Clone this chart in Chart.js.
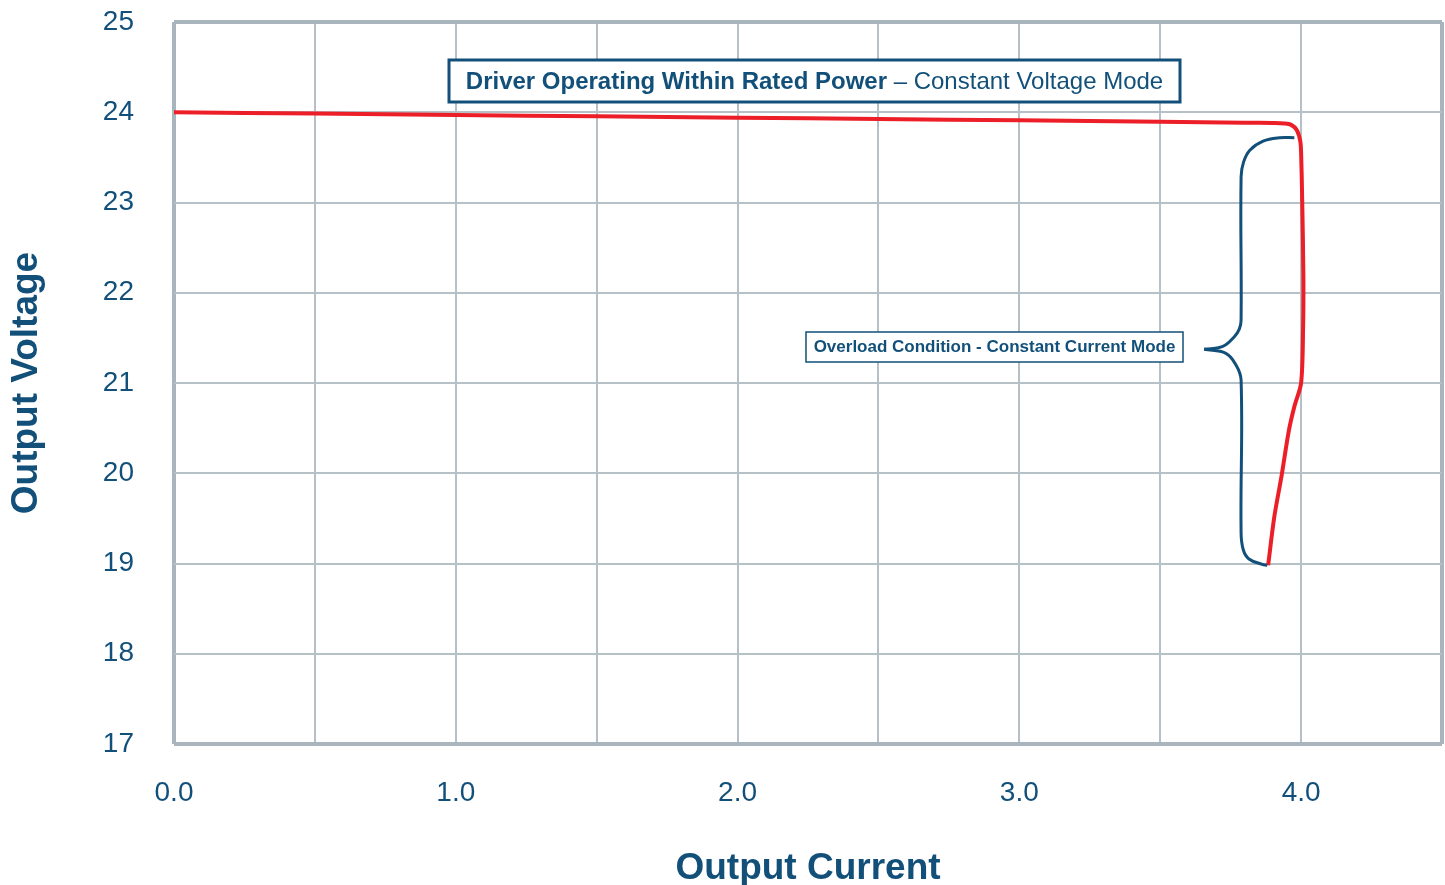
<!DOCTYPE html>
<html>
<head>
<meta charset="utf-8">
<script src="https://cdn.jsdelivr.net/npm/chart.js@4.4.1/dist/chart.umd.min.js"></script>
<style>
  html, body { margin: 0; padding: 0; background: #ffffff; }
  canvas { display: block; }
</style>
</head>
<body>
<canvas id="c" width="1445" height="885"></canvas>
<script>
// ---- Data ----
const outputCurrent = [0.0, 0.5, 1.0, 1.5, 2.0, 2.5, 3.0, 3.5, 3.8, 3.9, 3.94, 3.965, 3.985, 3.997, 4.0, 4.004, 4.008, 4.007, 4.0, 3.977, 3.957, 3.93, 3.905, 3.883];
const outputVoltage = [24.0, 23.985, 23.97, 23.955, 23.94, 23.925, 23.91, 23.895, 23.885, 23.88, 23.875, 23.86, 23.80, 23.68, 23.55, 23.0, 22.2, 21.6, 21.0, 20.75, 20.48, 19.96, 19.52, 18.98];

// Curly brace marking the constant-current region (upper and lower halves)
const braceUpperX = [3.976, 3.923, 3.865, 3.818, 3.796, 3.787, 3.787, 3.781, 3.763, 3.72, 3.656];
const braceUpperY = [23.718, 23.718, 23.68, 23.58, 23.45, 23.286, 21.698, 21.6, 21.513, 21.402, 21.373];
const braceLowerX = [3.656, 3.733, 3.769, 3.787, 3.787, 3.795, 3.815, 3.862, 3.880];
const braceLowerY = [21.373, 21.329, 21.199, 21.033, 19.338, 19.15, 19.05, 18.991, 18.98];

const xTitle = 'Output Current';
const yTitle = 'Output Voltage';
const xMin = 0, xMax = 4.5, xStep = 0.5;
const yMin = 17, yMax = 25, yStep = 1;
const noteTop = ['Driver Operating Within Rated Power', ' \u2013 Constant Voltage Mode'];
const noteOverload = 'Overload Condition - Constant Current Mode';

// ---- Styles ----
const TEXT = '#12507a';
const GRID = '#b5c0c7';
const EDGE = '#a8b5bd';
const RED = '#ec1f28';
const FONT = '"Liberation Sans", Arial, Helvetica, sans-serif';

const toPts = (xs, ys) => xs.map((x, i) => ({ x: x, y: ys[i] }));

const notesPlugin = {
  id: 'notes',
  beforeDraw(chart) {
    const ctx = chart.ctx;
    ctx.save();
    ctx.fillStyle = '#ffffff';
    ctx.fillRect(0, 0, chart.width, chart.height);
    ctx.restore();
  },
  afterDatasetsDraw(chart) {
    const ctx = chart.ctx;
    ctx.save();
    // Box 1
    ctx.fillStyle = '#ffffff';
    ctx.strokeStyle = TEXT;
    ctx.lineWidth = 3;
    ctx.fillRect(449, 60, 731, 42);
    ctx.strokeRect(449, 60, 731, 42);
    ctx.font = 'bold 24px ' + FONT;
    const w1 = ctx.measureText(noteTop[0]).width;
    ctx.font = '24px ' + FONT;
    const w2 = ctx.measureText(noteTop[1]).width;
    const cx = 449 + 731 / 2;
    let sx = cx - (w1 + w2) / 2;
    ctx.fillStyle = TEXT;
    ctx.textBaseline = 'middle';
    ctx.textAlign = 'left';
    ctx.font = 'bold 24px ' + FONT;
    ctx.fillText(noteTop[0], sx, 82);
    ctx.font = '24px ' + FONT;
    ctx.fillText(noteTop[1], sx + w1, 82);
    // Box 2
    ctx.fillStyle = '#ffffff';
    ctx.lineWidth = 1.5;
    ctx.fillRect(806, 332, 377, 30);
    ctx.strokeRect(806, 332, 377, 30);
    ctx.fillStyle = TEXT;
    ctx.font = 'bold 17px ' + FONT;
    ctx.textAlign = 'center';
    ctx.fillText(noteOverload, 806 + 377 / 2, 347.5);
    ctx.restore();
  }
};

new Chart(document.getElementById('c'), {
  type: 'scatter',
  data: {
    datasets: [
      {
        data: toPts(braceUpperX, braceUpperY),
        showLine: true, borderColor: TEXT, borderWidth: 3, pointRadius: 0, tension: 0.4, fill: false
      },
      {
        data: toPts(braceLowerX, braceLowerY),
        showLine: true, borderColor: TEXT, borderWidth: 3, pointRadius: 0, tension: 0.4, fill: false
      },
      {
        data: toPts(outputCurrent, outputVoltage),
        showLine: true, borderColor: RED, borderWidth: 4, pointRadius: 0, tension: 0.3, fill: false
      }
    ]
  },
  options: {
    responsive: false,
    animation: false,
    devicePixelRatio: 1,
    layout: { padding: { top: 22, right: 3, left: 0, bottom: 0 } },
    plugins: { legend: { display: false }, tooltip: { enabled: false } },
    scales: {
      x: {
        type: 'linear', min: xMin, max: xMax,
        afterFit(s) { s.height = 141; s.paddingLeft = 0; s.paddingRight = 0; },
        border: { display: false },
        grid: {
          color: ctx => (ctx.tick && (ctx.tick.value === xMin || ctx.tick.value === xMax)) ? EDGE : GRID,
          lineWidth: ctx => (ctx.tick && (ctx.tick.value === xMin || ctx.tick.value === xMax)) ? 4 : 2,
          drawTicks: false
        },
        ticks: {
          stepSize: xStep, autoSkip: false, maxRotation: 0, padding: 32,
          color: TEXT, font: { family: FONT, size: 28 },
          callback: v => (Math.abs(v - Math.round(v)) < 1e-9 && v < xMax) ? v.toFixed(1) : ''
        },
        title: {
          display: true, text: xTitle, color: TEXT,
          font: { family: FONT, size: 37, weight: 'bold', lineHeight: 0.9 }, padding: { top: 0, bottom: 0 }
        }
      },
      y: {
        type: 'linear', min: yMin, max: yMax,
        afterFit(s) { s.width = 174; s.paddingTop = 0; s.paddingBottom = 0; },
        border: { display: false },
        grid: {
          color: ctx => (ctx.tick && (ctx.tick.value === yMin || ctx.tick.value === yMax)) ? EDGE : GRID,
          lineWidth: ctx => (ctx.tick && (ctx.tick.value === yMin || ctx.tick.value === yMax)) ? 4 : 2,
          drawTicks: false
        },
        ticks: {
          stepSize: yStep, autoSkip: false, padding: 40,
          color: TEXT, font: { family: FONT, size: 28 },
          callback: v => String(v)
        },
        title: {
          display: true, text: yTitle, color: TEXT,
          font: { family: FONT, size: 37, weight: 'bold' }, padding: { top: 5, bottom: 0 }
        }
      }
    }
  },
  plugins: [notesPlugin]
});
</script>
</body>
</html>
